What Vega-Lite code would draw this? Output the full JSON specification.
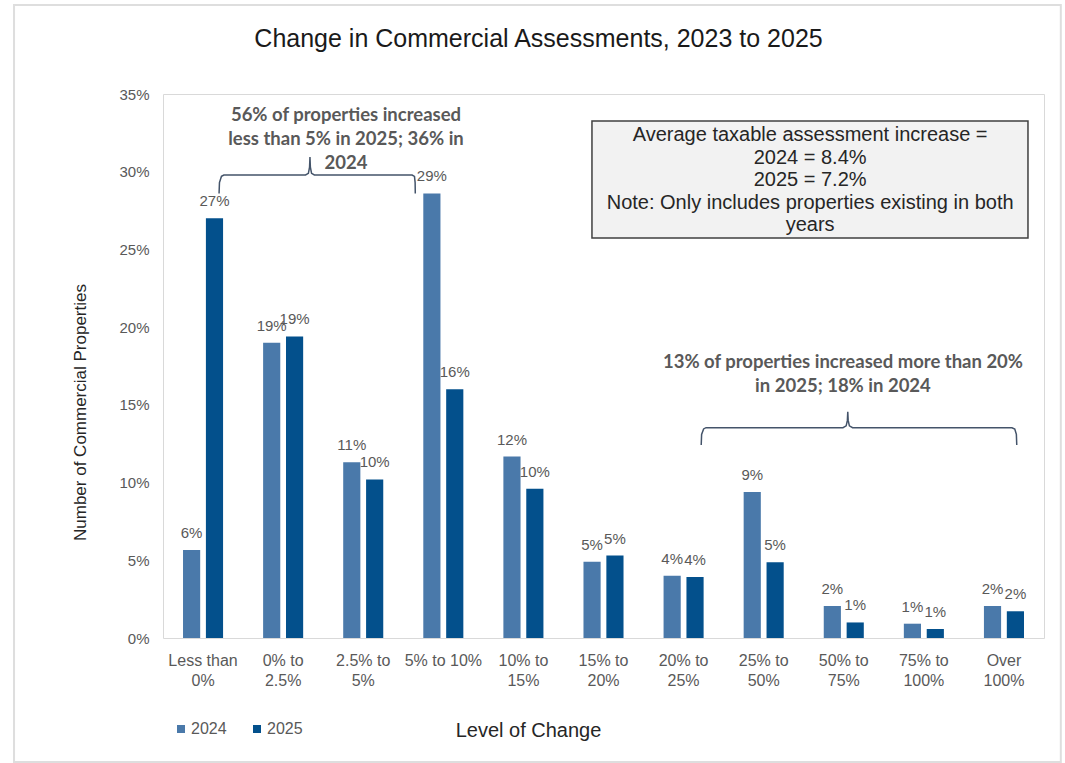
{
  "$schema": "https://vega.github.io/schema/vega-lite/v6.json",
  "width": 881,
  "height": 544,
  "autosize": {"type": "none"},
  "padding": {"left": 163, "top": 94, "right": 21, "bottom": 125},
  "background": "white",
  "title": {
    "text": "Change in Commercial Assessments, 2023 to 2025",
    "fontSize": 25,
    "fontWeight": "normal",
    "color": "#1a1a1a",
    "font": "Liberation Sans",
    "anchor": "middle",
    "frame": "group",
    "dx": -65,
    "offset": -68,
    "baseline": "alphabetic"
  },
  "config": {
    "font": "Liberation Sans",
    "view": {"stroke": "#d9d9d9", "strokeWidth": 1}
  },
  "datasets": {
    "bars": [
      {"cat": "Less than|0%", "year": "2024", "value": 0.0566},
      {"cat": "Less than|0%", "year": "2025", "value": 0.2700},
      {"cat": "0% to|2.5%", "year": "2024", "value": 0.1900},
      {"cat": "0% to|2.5%", "year": "2025", "value": 0.1940},
      {"cat": "2.5% to|5%", "year": "2024", "value": 0.1130},
      {"cat": "2.5% to|5%", "year": "2025", "value": 0.1020},
      {"cat": "5% to 10%", "year": "2024", "value": 0.2860},
      {"cat": "5% to 10%", "year": "2025", "value": 0.1600},
      {"cat": "10% to|15%", "year": "2024", "value": 0.1167},
      {"cat": "10% to|15%", "year": "2025", "value": 0.0960},
      {"cat": "15% to|20%", "year": "2024", "value": 0.0490},
      {"cat": "15% to|20%", "year": "2025", "value": 0.0530},
      {"cat": "20% to|25%", "year": "2024", "value": 0.0400},
      {"cat": "20% to|25%", "year": "2025", "value": 0.0392},
      {"cat": "25% to|50%", "year": "2024", "value": 0.0940},
      {"cat": "25% to|50%", "year": "2025", "value": 0.0487},
      {"cat": "50% to|75%", "year": "2024", "value": 0.0206},
      {"cat": "50% to|75%", "year": "2025", "value": 0.0100},
      {"cat": "75% to|100%", "year": "2024", "value": 0.0092},
      {"cat": "75% to|100%", "year": "2025", "value": 0.0058},
      {"cat": "Over|100%", "year": "2024", "value": 0.0206},
      {"cat": "Over|100%", "year": "2025", "value": 0.0172}
    ],
    "brackets": [
      {"b": "A", "i": 0, "u": 0.700, "v": 0.2860},
      {"b": "A", "i": 1, "u": 0.705, "v": 0.2930},
      {"b": "A", "i": 2, "u": 0.730, "v": 0.2970},
      {"b": "A", "i": 3, "u": 0.760, "v": 0.2979},
      {"b": "A", "i": 4, "u": 1.780, "v": 0.2979},
      {"b": "A", "i": 5, "u": 1.815, "v": 0.2990},
      {"b": "A", "i": 6, "u": 1.830, "v": 0.3030},
      {"b": "A", "i": 7, "u": 1.835, "v": 0.3095},
      {"b": "A", "i": 8, "u": 1.840, "v": 0.3030},
      {"b": "A", "i": 9, "u": 1.855, "v": 0.2990},
      {"b": "A", "i": 10, "u": 1.890, "v": 0.2979},
      {"b": "A", "i": 11, "u": 3.110, "v": 0.2979},
      {"b": "A", "i": 12, "u": 3.140, "v": 0.2970},
      {"b": "A", "i": 13, "u": 3.148, "v": 0.2930},
      {"b": "A", "i": 14, "u": 3.150, "v": 0.2860},
      {"b": "B", "i": 0, "u": 6.720, "v": 0.1242},
      {"b": "B", "i": 1, "u": 6.725, "v": 0.1310},
      {"b": "B", "i": 2, "u": 6.750, "v": 0.1345},
      {"b": "B", "i": 3, "u": 6.780, "v": 0.1353},
      {"b": "B", "i": 4, "u": 8.490, "v": 0.1353},
      {"b": "B", "i": 5, "u": 8.530, "v": 0.1365},
      {"b": "B", "i": 6, "u": 8.545, "v": 0.1400},
      {"b": "B", "i": 7, "u": 8.550, "v": 0.1456},
      {"b": "B", "i": 8, "u": 8.555, "v": 0.1400},
      {"b": "B", "i": 9, "u": 8.570, "v": 0.1365},
      {"b": "B", "i": 10, "u": 8.610, "v": 0.1353},
      {"b": "B", "i": 11, "u": 10.600, "v": 0.1353},
      {"b": "B", "i": 12, "u": 10.635, "v": 0.1345},
      {"b": "B", "i": 13, "u": 10.655, "v": 0.1310},
      {"b": "B", "i": 14, "u": 10.660, "v": 0.1242}
    ],
    "notes": [
      {"u": 2.285, "v": 0.3365, "t": "56% of properties increased\nless than 5% in 2025; 36% in\n2024"},
      {"u": 8.49, "v": 0.1776, "t": "13% of properties increased more than 20%\nin 2025; 18% in 2024"}
    ],
    "box": [
      {"u1": 5.356, "u2": 10.80, "v1": 0.2574, "v2": 0.3326, "uc": 8.08, "vc": 0.3236,
       "t": "Average taxable assessment increase =\n2024 = 8.4%\n2025 = 7.2%\nNote: Only includes properties existing in both\nyears"}
    ],
    "frame": [
      {"u1": -1.86, "u2": 11.21, "v1": -0.0798, "v2": 0.4073}
    ]
  },
  "layer": [
    {
      "data": {"name": "frame"},
      "mark": {"type": "rect", "fill": null, "fillOpacity": 0, "stroke": "#dedede", "strokeWidth": 2, "clip": false},
      "encoding": {
        "x": {"field": "u1", "type": "quantitative", "scale": {"domain": [0, 11], "nice": false, "zero": false}, "axis": null},
        "x2": {"field": "u2"},
        "y": {"field": "v1", "type": "quantitative", "scale": {"domain": [0, 0.35], "nice": false}},
        "y2": {"field": "v2"}
      }
    },
    {
      "data": {"name": "bars"},
      "mark": {"type": "bar"},
      "encoding": {
        "x": {
          "field": "cat", "type": "nominal",
          "sort": ["Less than|0%", "0% to|2.5%", "2.5% to|5%", "5% to 10%", "10% to|15%", "15% to|20%", "20% to|25%", "25% to|50%", "50% to|75%", "75% to|100%", "Over|100%"],
          "scale": {"paddingInner": 0.5, "paddingOuter": 0.25},
          "axis": {
            "title": "Level of Change",
            "labelExpr": "split(datum.label, '|')",
            "labelAngle": 0,
            "labelFontSize": 16,
            "labelColor": "#595959",
            "labelLineHeight": 20,
            "labelPadding": 14,
            "ticks": false,
            "domain": false,
            "titleFontSize": 20,
            "titleFontWeight": "normal",
            "titleColor": "#262626",
            "titleX": 365,
            "titleY": 92,
            "titleBaseline": "middle"
          }
        },
        "xOffset": {"field": "year", "type": "nominal", "scale": {"paddingInner": 0.25}},
        "y": {
          "field": "value", "type": "quantitative",
          "scale": {"domain": [0, 0.35], "nice": false},
          "axis": {
            "title": "Number of Commercial Properties",
            "format": ".0%",
            "values": [0, 0.05, 0.1, 0.15, 0.2, 0.25, 0.3, 0.35],
            "grid": false,
            "ticks": false,
            "domain": false,
            "labelFontSize": 15,
            "labelColor": "#595959",
            "labelPadding": 14,
            "titleFontSize": 17,
            "titleFontWeight": "normal",
            "titleColor": "#262626",
            "titleX": -83,
            "titleY": 318,
            "titleBaseline": "middle"
          }
        },
        "color": {
          "field": "year", "type": "nominal",
          "scale": {"domain": ["2024", "2025"], "range": ["#4A79AA", "#03508C"]},
          "legend": {
            "orient": "none",
            "legendX": 10,
            "legendY": 627,
            "direction": "horizontal",
            "title": null,
            "symbolType": "square",
            "symbolSize": 64,
            "labelFontSize": 16,
            "labelColor": "#595959",
            "labelOffset": 2,
            "columnPadding": 22
          }
        }
      }
    },
    {
      "data": {"name": "bars"},
      "mark": {"type": "text", "baseline": "bottom", "dy": -9, "fontSize": 15, "fill": "#595959"},
      "encoding": {
        "x": {
          "field": "cat", "type": "nominal",
          "sort": ["Less than|0%", "0% to|2.5%", "2.5% to|5%", "5% to 10%", "10% to|15%", "15% to|20%", "20% to|25%", "25% to|50%", "50% to|75%", "75% to|100%", "Over|100%"],
          "scale": {"paddingInner": 0.5, "paddingOuter": 0.25},
          "axis": null
        },
        "xOffset": {"field": "year", "type": "nominal", "scale": {"paddingInner": 0.25}},
        "y": {"field": "value", "type": "quantitative", "scale": {"domain": [0, 0.35], "nice": false}},
        "text": {"field": "value", "type": "quantitative", "format": ".0%"}
      }
    },
    {
      "data": {"name": "brackets"},
      "mark": {"type": "line", "stroke": "#44546A", "strokeWidth": 1.5},
      "encoding": {
        "x": {"field": "u", "type": "quantitative", "scale": {"domain": [0, 11], "nice": false, "zero": false}, "axis": null},
        "y": {"field": "v", "type": "quantitative", "scale": {"domain": [0, 0.35], "nice": false}},
        "detail": {"field": "b"},
        "order": {"field": "i", "type": "quantitative"}
      }
    },
    {
      "data": {"name": "notes"},
      "mark": {"type": "text", "font": "Lato", "fontWeight": "bold", "fontSize": 18.5, "fill": "#595959", "lineBreak": "\n", "lineHeight": 24, "baseline": "middle", "align": "center"},
      "encoding": {
        "x": {"field": "u", "type": "quantitative", "scale": {"domain": [0, 11], "nice": false, "zero": false}, "axis": null},
        "y": {"field": "v", "type": "quantitative", "scale": {"domain": [0, 0.35], "nice": false}},
        "text": {"field": "t"}
      }
    },
    {
      "data": {"name": "box"},
      "mark": {"type": "rect", "fill": "#f2f2f2", "stroke": "#404040", "strokeWidth": 1.5},
      "encoding": {
        "x": {"field": "u1", "type": "quantitative", "scale": {"domain": [0, 11], "nice": false, "zero": false}, "axis": null},
        "x2": {"field": "u2"},
        "y": {"field": "v1", "type": "quantitative", "scale": {"domain": [0, 0.35], "nice": false}},
        "y2": {"field": "v2"}
      }
    },
    {
      "data": {"name": "box"},
      "mark": {"type": "text", "fontSize": 20, "fill": "#262626", "lineBreak": "\n", "lineHeight": 22.5, "baseline": "middle", "align": "center"},
      "encoding": {
        "x": {"field": "uc", "type": "quantitative", "scale": {"domain": [0, 11], "nice": false, "zero": false}, "axis": null},
        "y": {"field": "vc", "type": "quantitative", "scale": {"domain": [0, 0.35], "nice": false}},
        "text": {"field": "t"}
      }
    }
  ],
  "resolve": {"scale": {"x": "independent"}}
}
